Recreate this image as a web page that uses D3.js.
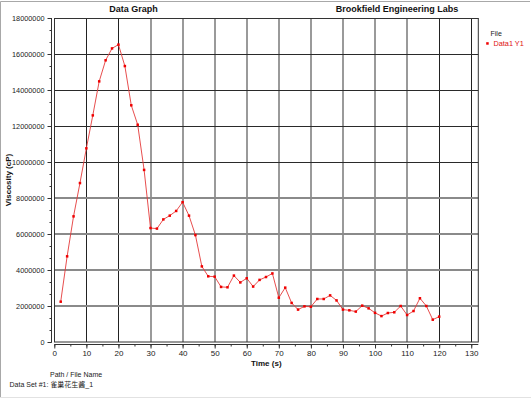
<!DOCTYPE html>
<html><head><meta charset="utf-8">
<script src="https://cdn.jsdelivr.net/npm/d3@7/dist/d3.min.js"></script>
<style>
html,body{margin:0;padding:0;background:#fff;}
svg{display:block;font-family:"Liberation Sans",Arial,sans-serif;}
</style></head>
<body><svg id="c" width="531" height="402"></svg>
<script>
const timeS = [2,4,6,8,10,12,14,16,18,20,22,24,26,28,30,32,34,36,38,40,42,44,46,48,50,52,54,56,58,60,
  62,64,66,68,70,72,74,76,78,80,82,84,86,88,90,92,94,96,98,100,102,104,106,108,110,112,114,116,118,120];
const viscosityCP = [2240000,4760000,6980000,8830000,10760000,12590000,14480000,15650000,16310000,16520000,
  15330000,13150000,12070000,9560000,6330000,6300000,6810000,7020000,7280000,7770000,
  7020000,5940000,4200000,3650000,3630000,3060000,3040000,3690000,3310000,3540000,
  3080000,3450000,3610000,3810000,2460000,3020000,2170000,1800000,1980000,1960000,
  2390000,2390000,2590000,2310000,1800000,1760000,1690000,2020000,1870000,1620000,
  1440000,1610000,1650000,2000000,1500000,1720000,2430000,2000000,1240000,1410000];
const xTicks = [0,10,20,30,40,50,60,70,80,90,100,110,120,130];
const yTicks = [0,2000000,4000000,6000000,8000000,10000000,12000000,14000000,16000000,18000000];
const seriesName = "Data1 Y1";

const svg = d3.select("#c");
const L = 54.3, R = 478.3, T = 18, B = 342;
const x = d3.scaleLinear().domain([0, 132.2]).range([L, R]);
const y = d3.scaleLinear().domain([0, 18000000]).range([B, T]);

// outer frame
svg.append("path").attr("d","M0.5,398 L0.5,1.5 L530,1.5").attr("fill","none").attr("stroke","#a8a8a8");
svg.append("line").attr("x1",0).attr("x2",531).attr("y1",397.5).attr("y2",397.5).attr("stroke","#e2e2e2");

// grid
const darkX = new Set([10,20,120,130]);
xTicks.filter(d=>d>0).forEach(d=>{
  const px = x(d);
  const dark = darkX.has(d);
  svg.append("line").attr("x1",dark?Math.round(px)+0.5:Math.round(px)).attr("x2",dark?Math.round(px)+0.5:Math.round(px))
    .attr("y1",T).attr("y2",B).attr("stroke",dark?"#222":"#9a9a9a").attr("stroke-width",dark?1:2);
});
yTicks.filter(d=>d>0).forEach(d=>{
  const py = y(d);
  const dark = d >= 10000000;
  svg.append("line").attr("x1",L).attr("x2",R)
    .attr("y1",dark?Math.round(py)+0.5:Math.round(py)).attr("y2",dark?Math.round(py)+0.5:Math.round(py))
    .attr("stroke",dark?"#2a2a2a":"#8a8a8a").attr("stroke-width",dark?1:2);
});
// plot frame
svg.append("rect").attr("x",54.5).attr("y",18.5).attr("width",R-54.5).attr("height",B-18.5)
  .attr("fill","none").attr("stroke","#333");

// y axis
const yMinor = d3.range(0, 18000001, 2000000/3);
const yAxisG = svg.append("g").attr("transform","translate(51.5,0)");
yAxisG.append("line").attr("x1",0).attr("x2",0).attr("y1",T).attr("y2",B+0.5).attr("stroke","#333");
yAxisG.call(d3.axisLeft(y).tickValues(yMinor).tickSize(2).tickFormat(""))
  .call(g=>g.select(".domain").remove()).selectAll("line").attr("stroke","#333");
const yMaj = svg.append("g").attr("transform","translate(51.5,0)")
  .call(d3.axisLeft(y).tickValues(yTicks).tickSize(4).tickPadding(3).tickFormat(d3.format("d")));
yMaj.select(".domain").remove();
yMaj.selectAll("line").attr("stroke","#333");
yMaj.selectAll("text").attr("font-family","Liberation Sans, Arial").attr("font-size","7.3px").attr("fill","#222");

// x axis
const xAxisG = svg.append("g").attr("transform","translate(0,344.5)");
xAxisG.append("line").attr("x1",L).attr("x2",R).attr("y1",0).attr("y2",0).attr("stroke","#333");
xAxisG.call(d3.axisBottom(x).tickValues(d3.range(0,131,5)).tickSize(2).tickFormat(""))
  .call(g=>g.select(".domain").remove()).selectAll("line").attr("stroke","#333");
const xMaj = svg.append("g").attr("transform","translate(0,344.5)")
  .call(d3.axisBottom(x).tickValues(xTicks).tickSize(4).tickPadding(2).tickFormat(d3.format("d")));
xMaj.select(".domain").remove();
xMaj.selectAll("line").attr("stroke","#333");
xMaj.selectAll("text").attr("font-family","Liberation Sans, Arial").attr("font-size","8px").attr("fill","#222");

// series
const pts = timeS.map((t,i)=>[t, viscosityCP[i]]);
svg.append("path").datum(pts)
  .attr("d", d3.line().x(d=>x(d[0])).y(d=>y(d[1])))
  .attr("fill","none").attr("stroke","#e43a3a").attr("stroke-width",0.9);
svg.selectAll("rect.pt").data(pts).enter().append("rect").attr("class","pt")
  .attr("x",d=>x(d[0])-1.25).attr("y",d=>y(d[1])-1.25).attr("width",2.5).attr("height",2.5).attr("fill","#f00000");

// titles
svg.append("text").attr("x",133.5).attr("y",11.5).attr("text-anchor","middle")
  .attr("font-size","9px").attr("font-weight","bold").attr("fill","#111").text("Data Graph");
svg.append("text").attr("x",397).attr("y",11.5).attr("text-anchor","middle")
  .attr("font-size","9px").attr("font-weight","bold").attr("fill","#111").text("Brookfield Engineering Labs");
svg.append("text").attr("x",(L+R)/2).attr("y",366).attr("text-anchor","middle")
  .attr("font-size","8px").attr("font-weight","bold").attr("fill","#111").text("Time (s)");
svg.append("text").attr("transform",`translate(11,${(T+B)/2}) rotate(-90)`).attr("text-anchor","middle")
  .attr("font-size","8px").attr("font-weight","bold").attr("fill","#111").text("Viscosity (cP)");

// legend
svg.append("text").attr("x",490.5).attr("y",35.5).attr("font-size","7px").attr("fill","#222").text("File");
svg.append("rect").attr("x",486.2).attr("y",42.2).attr("width",2.5).attr("height",2.5).attr("fill","#f00000");
svg.append("text").attr("x",493.5).attr("y",46).attr("font-size","7.3px").attr("fill","#e01010").text(seriesName);

// footer
svg.append("text").attr("x",50).attr("y",377).attr("font-size","7px").attr("fill","#222").text("Path / File Name");
const ds = svg.append("text").attr("x",9.5).attr("y",386.5).attr("font-size","7px").attr("fill","#222");
ds.append("tspan").text("Data Set #1: ");
ds.append("tspan").attr("font-family","Noto Sans CJK SC").text("雀巢花生酱");
ds.append("tspan").text("_1");
</script></body></html>
